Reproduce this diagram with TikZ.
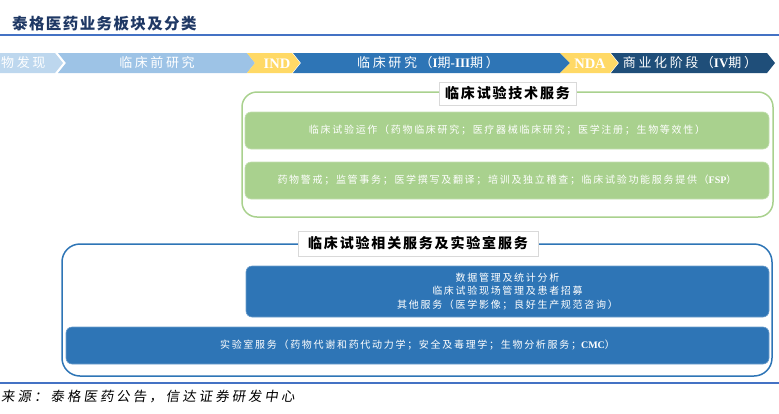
\documentclass[tikz,border=0pt]{standalone}
\usepackage{fontspec}
\setmainfont{Noto Sans CJK SC}
\newfontfamily\ttlfont[LetterSpace=9]{Noto Sans CJK SC}
\newfontfamily\chevfont[LetterSpace=20]{Noto Sans CJK SC}
\newfontfamily\lblfont[LetterSpace=13]{Noto Sans CJK SC}
\newfontfamily\boxfont[LetterSpace=17]{Noto Sans CJK SC}
\newfontfamily\srcfont[LetterSpace=22,FakeSlant=0.15]{Noto Sans CJK SC}
\newfontfamily\latinb{Liberation Serif}
\definecolor{navy}{HTML}{1F3864}
\definecolor{rulec}{HTML}{4472C4}
\definecolor{cA}{HTML}{BDD7EE}
\definecolor{cB}{HTML}{9DC3E6}
\definecolor{cY}{HTML}{FFD966}
\definecolor{cC}{HTML}{2E75B6}
\definecolor{cD}{HTML}{1F4E79}
\definecolor{gfill}{HTML}{A9D18E}
\definecolor{bfill}{HTML}{2E75B6}
\tikzset{
  chevtext/.style={text=white, inner sep=0, font=\chevfont\fontsize{13}{13}\selectfont},
  captext/.style={text=white, inner sep=0, font=\latinb\bfseries\fontsize{14.5}{14.5}\selectfont},
  gouter/.style={draw=gfill, line width=1.5pt, rounded corners=15pt, inner sep=0},
  bouter/.style={draw=bfill, line width=1.5pt, rounded corners=18pt, inner sep=0},
  gbox/.style={fill=gfill, draw=gfill!70!white, line width=0.6pt, rounded corners=6pt, text=white, inner sep=0, align=center, font=\boxfont\fontsize{10}{14}\selectfont},
  bbox/.style={fill=bfill, draw=bfill!70!white, line width=0.6pt, rounded corners=6pt, text=white, inner sep=0, align=center, font=\boxfont\fontsize{10}{13.5}\selectfont},
  lblbox/.style={fill=white, draw=black!15, line width=0.6pt, inner sep=0, text=black, font=\lblfont\bfseries\fontsize{14}{14}\selectfont},
}
\begin{document}
\begin{tikzpicture}[x=1pt,y=-1pt]
\useasboundingbox (0,0) rectangle (779,413);
\clip (0,0) rectangle (779,413);
% title
\node[anchor=west, inner sep=0, text=navy, font=\ttlfont\bfseries\fontsize{15.5}{15.5}\selectfont] (title) at (12,24) {泰格医药业务板块及分类};
\draw[rulec, line width=1.5pt] (0,35) -- (779,35);
% chevrons
\fill[cA] (-5,53) -- (55,53) -- (63,63) -- (55,73) -- (-5,73) -- cycle;
\fill[cB] (58,53) -- (247,53) -- (255,63) -- (247,73) -- (58,73) -- (66,63) -- cycle;
\fill[cY] (247,53) -- (292,53) -- (300,63) -- (292,73) -- (247,73) -- (255,63) -- cycle;
\fill[cC] (293,53) -- (560,53) -- (570,63) -- (560,73) -- (293,73) -- (301,63) -- cycle;
\fill[cY] (560,53) -- (610,53) -- (618,63) -- (610,73) -- (560,73) -- (570,63) -- cycle;
\fill[cD] (611,53) -- (767,53) -- (775,63) -- (767,73) -- (611,73) -- (619,63) -- cycle;
\node[chevtext, anchor=west] (s1) at (1,63) {物发现};
\node[chevtext] (s2) at (157,63) {临床前研究};
\node[captext] (s3) at (277,63.5) {IND};
\node[chevtext] (s4) at (428,63) {临床研究（{\latinb\bfseries I}期{\latinb\bfseries -III}期）};
\node[captext] (s5) at (590,63.5) {NDA};
\node[chevtext] (s6) at (690,63) {商业化阶段（{\latinb\bfseries IV}期）};
% green group
\node[gouter, minimum width=531, minimum height=125] (gout) at (507.5,154.5) {};
\node[lblbox, minimum width=137, minimum height=23] (glbl) at (507.5,93.5) {临床试验技术服务};
\node[gbox, minimum width=524, minimum height=37] (g1) at (507,130.5) {临床试验运作（药物临床研究；医疗器械临床研究；医学注册；生物等效性）};
\node[gbox, minimum width=524, minimum height=37] (g2) at (507,180.5) {药物警戒；监管事务；医学撰写及翻译；培训及独立稽查；临床试验功能服务提供（{\latinb\bfseries FSP}）};
% blue group
\node[bouter, minimum width=710, minimum height=132] (bout) at (417,310) {};
\node[lblbox, minimum width=240, minimum height=25] (blbl) at (418,243.5) {临床试验相关服务及实验室服务};
\node[bbox, minimum width=523, minimum height=51] (b1) at (507.5,291.5) {数据管理及统计分析\\临床试验现场管理及患者招募\\其他服务（医学影像；良好生产规范咨询）};
\node[bbox, minimum width=703, minimum height=37] (b2) at (417.5,345.5) {实验室服务（药物代谢和药代动力学；安全及毒理学；生物分析服务；{\latinb\bfseries CMC}）};
% source
\draw[rulec, line width=1.2pt] (0,383) -- (779,383);
\node[anchor=west, inner sep=0, text=black, font=\srcfont\fontsize{13.5}{13.5}\selectfont] (src) at (1,397) {来源：泰格医药公告，信达证券研发中心};
\end{tikzpicture}
\end{document}
